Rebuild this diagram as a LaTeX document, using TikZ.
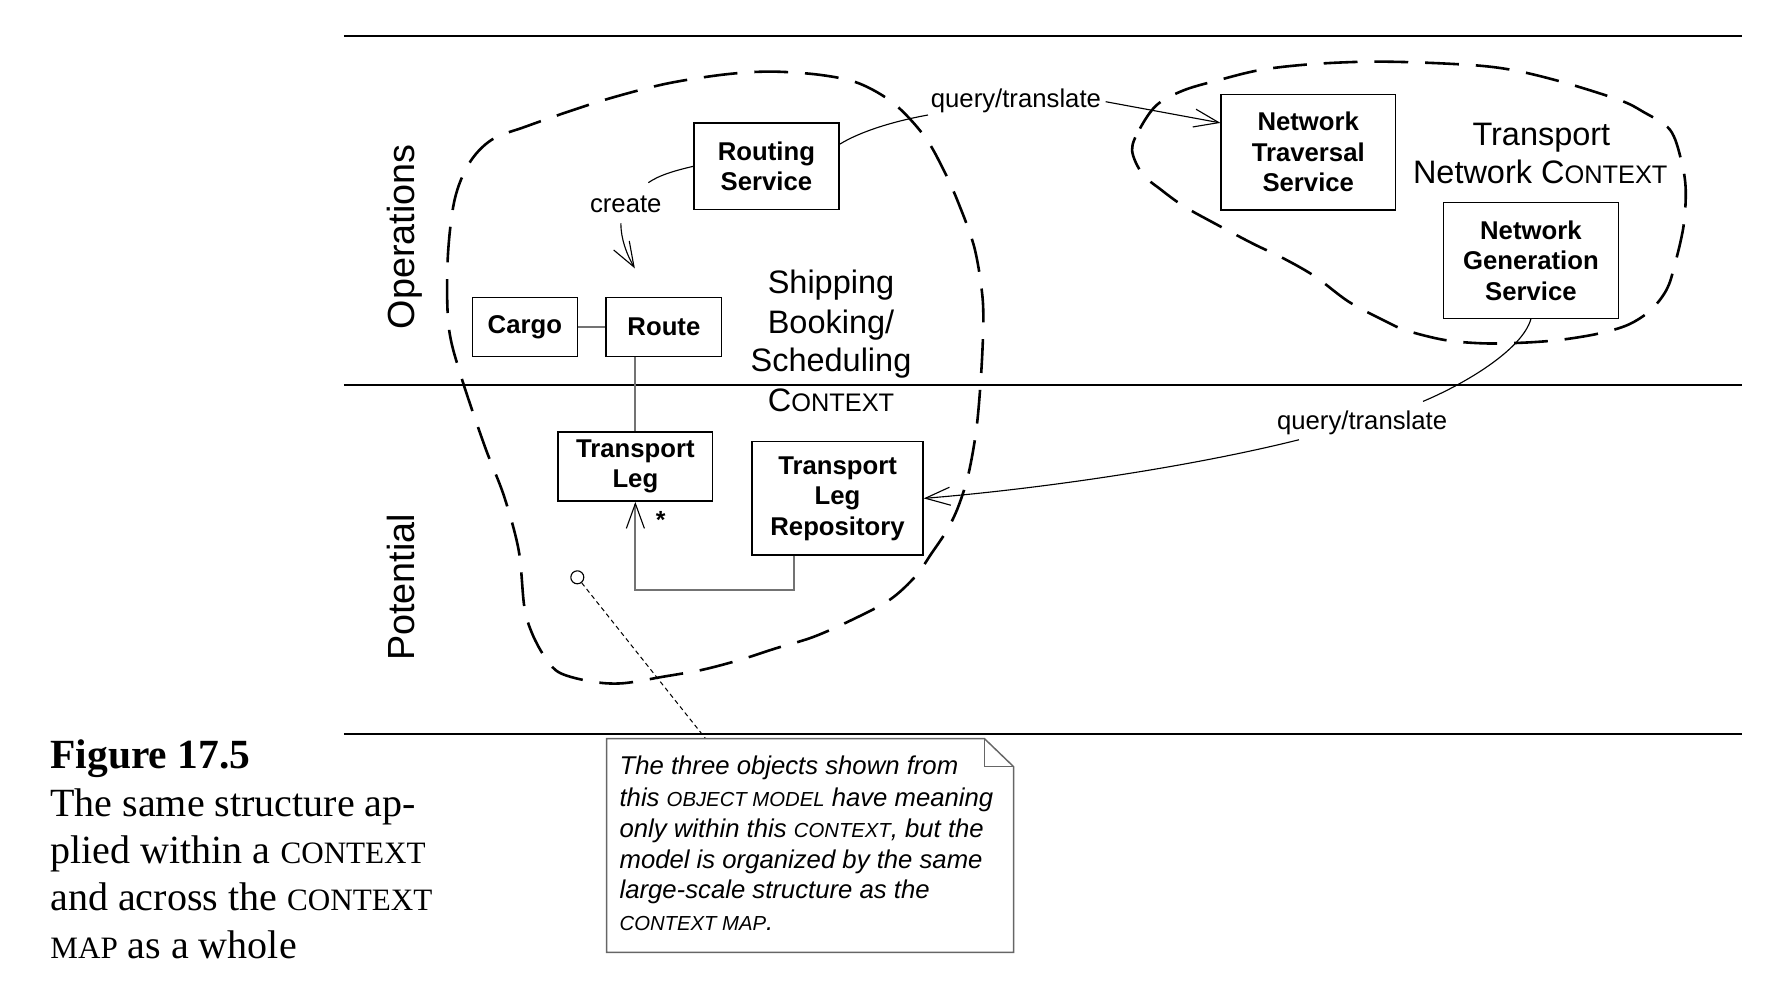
\documentclass[tikz,border=0pt]{standalone}
\usepackage{fontspec}
\setmainfont{Liberation Serif}
\newfontfamily\arial{Liberation Sans}
\newcommand\smcap[2]{{\fontsize{#1}{#1}\selectfont #2}}
\usetikzlibrary{arrows.meta,calc}
\begin{document}
\begin{tikzpicture}[x=1pt,y=-1pt,
  box/.style={draw, line width=1.3pt, fill=white, align=center, inner sep=0pt,
    font=\arial\bfseries\fontsize{22.8}{27}\selectfont},
  lbl/.style={inner sep=0pt, font=\arial\fontsize{22.8}{27}\selectfont},
  ctx/.style={inner sep=0pt, font=\arial\fontsize{28.8}{34.5}\selectfont},
  side/.style={inner sep=0pt, rotate=90, anchor=base, font=\arial\fontsize{33.5}{40}\selectfont},
  notetxt/.style={inner sep=0pt, anchor=base west, font=\arial\itshape\fontsize{22.8}{27.5}\selectfont},
  captxt/.style={inner sep=0pt, anchor=base west, font=\fontsize{35.5}{41.5}\selectfont},
  rule/.style={line width=1.2pt},
  blob/.style={line width=2.3pt, dash pattern=on 30pt off 15pt},
  thin/.style={line width=1pt},
  grayline/.style={line width=1.8pt, draw=black!55},
  openarrow/.style={-{Straight Barb[length=22pt,width=16pt,line width=1pt,black]}},
  leader/.style={line width=0.9pt, dash pattern=on 4pt off 3pt},
  notec/.style={line width=1.3pt, draw=black!60},
  pinc/.style={circle, draw, line width=1pt, minimum size=11.5pt, inner sep=0pt, fill=white}
]
\useasboundingbox (0,0) rectangle (1568,883);

% horizontal rules
\draw[rule] (305,32) -- (1545,32);
\draw[rule] (305,341.4) -- (1545,341.4);
\draw[rule] (305,651) -- (1545,651);

% side labels
\node[side] (ops) at (368,210) {Operations};
\node[side] (pot) at (368,521) {Potential};

% context boundaries
\draw[blob] plot[smooth cycle, tension=0.55] coordinates {
 (398,290) (397,231) (403,178) (416,145) (436,124) (467,112) (507,98) (545,86)
 (592,74) (643,66) (684,63.5) (728,66.5) (762,74) (793,92) (820,121) (837,151)
 (850,180) (864,219) (871,260) (872,290) (870,334) (866,380) (859,420) (850,449)
 (840,470) (826,491) (812,511) (789,532) (755,550) (721,565) (688,575) (657,585)
 (623,594) (589,600) (552,606) (525,604.5) (497,597) (484,584) (472,562) (465,538)
 (460,488) (447,440) (430,396) (409,334)};
\draw[blob] plot[smooth cycle, tension=0.55] coordinates {
 (1004,133) (1011,114) (1026,93) (1050,80) (1081,71) (1118,62) (1162,57) (1213,54.7)
 (1264,55.6) (1315,58.5) (1349,63.6) (1390,74) (1437,89) (1457,99) (1481,115)
 (1491,142) (1495,168) (1493,201) (1485,236) (1478,257) (1464,275) (1444,288)
 (1417,296) (1383,301.5) (1349,304) (1315,304.5) (1281,301.5) (1247,293) (1227,284)
 (1196,267.5) (1166,245) (1138,229) (1111,216) (1077,198) (1050,183) (1030,168.5)
 (1013,154)};

% boxes
\node[box, minimum width=128.5pt, minimum height=77pt] (rs) at (679.75,147.5) {Routing\\Service};
\node[box, minimum width=93pt, minimum height=52pt] (cargo) at (465.5,290) {Cargo};
\node[box, minimum width=102.4pt, minimum height=52pt] (route) at (588.8,290) {Route};
\node[box, minimum width=137pt, minimum height=61.5pt] (tl) at (563.5,413.75) {Transport\\Leg};
\node[box, minimum width=151.6pt, minimum height=100.6pt] (tlr) at (742.8,442) {Transport\\Leg\\Repository};
\node[box, minimum width=154.5pt, minimum height=102.5pt] (nts) at (1160.25,134.95) {Network\\Traversal\\Service};
\node[box, minimum width=155.4pt, minimum height=102.6pt] (ngs) at (1357.7,231) {Network\\Generation\\Service};

% context names
\node[ctx, anchor=base] (s1) at (737,260) {Shipping};
\node[ctx, anchor=base] (s2) at (737,295.6) {Booking/};
\node[ctx, anchor=base] (s3) at (737,329.6) {Scheduling};
\node[ctx, anchor=base] (s4) at (737,365) {C\smcap{22.5}{ONTEXT}};
\node[ctx, anchor=base] (t1) at (1367,128.6) {Transport};
\node[ctx, anchor=base] (t2) at (1366,162.6) {Network C\smcap{22.5}{ONTEXT}};

% connector labels
\node[lbl, anchor=base] (q1) at (901,95) {query/translate};
\node[lbl, anchor=base] (create) at (555,188.6) {create};
\node[lbl, anchor=base] (q2) at (1208,381) {query/translate};
\node[inner sep=0pt, font=\arial\bfseries\fontsize{22}{26}\selectfont] (star) at (586,461) {*};

% connector coordinates
\coordinate (q1in) at (823,102);
\coordinate (q1out) at (980.6,90.2);
\coordinate (cin) at (575,162);
\coordinate (cout) at (550.6,198);
\coordinate (ctip) at (563,238);
\coordinate (q2in) at (1262,356);
\coordinate (q2out) at (1152,390);
\coordinate (notetop) at (625.7,655);

% connectors
\draw[thin] ($(rs.north east)!0.25!(rs.south east)$) .. controls (764,116) and (795,107) .. (q1in);
\draw[thin, openarrow] (q1out) -- ($(nts.north west)!0.25!(nts.south west)$);
\draw[thin] (rs.west) .. controls (600,151) and (585,155) .. (cin);
\draw[thin, openarrow] (cout) .. controls (550.6,212) and (556,226) .. (ctip);
\draw[grayline] (cargo) -- (route);
\draw[grayline] (tl.north) -- (tl.north |- route.south);
\draw[grayline, openarrow] ($(tlr.south west)!0.25!(tlr.south east)$) -- ++(0,30.1) -| (tl.south);
\draw[thin] (ngs.south) .. controls (1350,310) and (1300,340) .. (q2in);
\draw[thin, openarrow] (q2out) .. controls (1052,415) and (918,434) .. (tlr.east);

% note
\node[pinc] (pin) at (512,512) {};
\draw[leader] (pin) -- (notetop);
\draw[notec] (538,655) -- (873,655) -- (899,680) -- (899,844.6) -- (538,844.6) -- cycle;
\draw[notec] (873,655) -- (873,680) -- (899,680);
\node[notetxt] (n1) at (549.3,687.3) {The three objects shown from};
\node[notetxt] (n2) at (549.3,715.4) {this \smcap{18}{OBJECT MODEL} have meaning};
\node[notetxt] (n3) at (549.3,742.5) {only within this \smcap{18}{CONTEXT}, but the};
\node[notetxt] (n4) at (549.3,770) {model is organized by the same};
\node[notetxt] (n5) at (549.3,797) {large-scale structure as the};
\node[notetxt] (n6) at (549.3,824.8) {\smcap{18}{CONTEXT MAP}.};

% caption
\node[inner sep=0pt, anchor=base west, font=\bfseries\fontsize{36.8}{42}\selectfont] (fig) at (44.5,681.4) {Figure 17.5};
\node[captxt] (c1) at (44.5,724.3) {The same structure ap-};
\node[captxt] (c2) at (44.5,765.6) {plied within a \smcap{27.6}{CONTEXT}};
\node[captxt] (c3) at (44.5,807.6) {and across the \smcap{27.6}{CONTEXT}};
\node[captxt] (c4) at (44.5,849.9) {\smcap{27.6}{MAP} as a whole};
\end{tikzpicture}
\end{document}
